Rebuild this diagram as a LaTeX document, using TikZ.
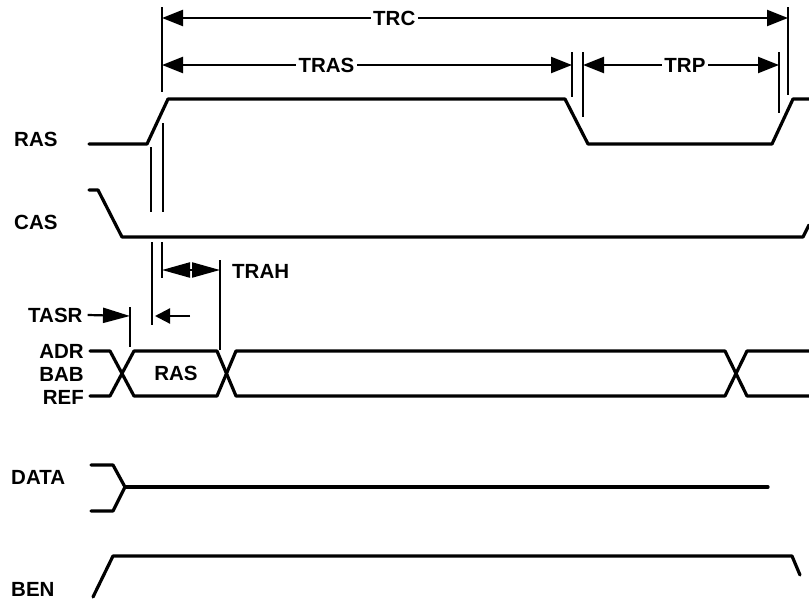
\documentclass[tikz,border=0pt]{standalone}
\usepackage{fontspec}
\setmainfont{Liberation Sans}
\usetikzlibrary{arrows.meta}

\begin{document}
\begin{tikzpicture}[x=1pt, y=-1pt,
    sig/.style={line width=3.2pt, line cap=round, line join=round},
    guide/.style={line width=2.7pt},
    dim/.style={line width=2.2pt, {Triangle[length=21pt,width=16pt]}-{Triangle[length=21pt,width=16pt]}},
    lbl/.style={font=\fontsize{20.5}{24}\selectfont\bfseries, inner sep=0pt, text height=14.5pt, text depth=0pt},
    dimlbl/.style={lbl, fill=white, inner xsep=2.5pt}]
    \useasboundingbox (0,0) rectangle (809,605);

    % signal names
    \node[lbl, anchor=west] (nRAS) at (14,139) {RAS};
    \node[lbl, anchor=west] (nCAS) at (14,222) {CAS};
    \node[lbl, anchor=east] (nADR) at (84,351) {ADR};
    \node[lbl, anchor=east] (nBAB) at (84,374) {BAB};
    \node[lbl, anchor=east] (nREF) at (84,397) {REF};
    \node[lbl, anchor=west] (nDATA) at (11,477) {DATA};
    \node[lbl, anchor=west] (nBEN) at (11,589) {BEN};

    % waveforms
    \draw[sig] (89,144) -- (147,144) -- (168,99) -- (565,99) -- (588,144) -- (772,144) -- (793,99) -- (809,99);
    \draw[sig] (89,190) -- (98,190) -- (122,237) -- (803,237) -- (809,225);
    \draw[sig] (90,351) -- (110,351) -- (134,396) -- (217,396) -- (236,351) -- (725,351) -- (747,396) -- (809,396);
    \draw[sig] (90,396) -- (110,396) -- (134,351) -- (217,351) -- (236,396) -- (725,396) -- (747,351) -- (809,351);
    \node[lbl] (busRAS) at (176,373) {RAS};
    \draw[sig] (91,465) -- (113,465) -- (125,487) -- (113,511) -- (91,511);
    \draw[sig] (125,487) -- (768,487);
    \draw[sig] (93,597) -- (113,556) -- (792,556) -- (800,575);

    % reference lines
    \draw[guide] (162,7) -- (162,92);
    \draw[guide] (788,7) -- (788,95);
    \draw[guide] (572,52) -- (572,97);
    \draw[guide] (583,52) -- (583,117);
    \draw[guide] (779,52) -- (779,113);
    \draw[guide] (151,147) -- (151,212);
    \draw[guide] (163,123) -- (163,212);
    \draw[guide] (152,242) -- (152,325);
    \draw[guide] (162,242) -- (162,278);
    \draw[guide] (220,260) -- (220,350);
    \draw[guide] (130,307) -- (130,347);

    % timing marks
    \coordinate (trcA) at (162,18);
    \coordinate (trcB) at (788,18);
    \coordinate (trasA) at (162,65);
    \coordinate (trasB) at (572,65);
    \coordinate (trpA) at (583,65);
    \coordinate (trpB) at (779,65);
    \coordinate (trahA) at (162,270);
    \coordinate (trahB) at (220,270);
    \coordinate (tasrA) at (130,316);
    \coordinate (tasrB) at (152,316);

    \draw[dim] (trcA) -- node[dimlbl, pos=0.371] (lTRC) {TRC} (trcB);
    \draw[dim] (trasA) -- node[dimlbl, pos=0.401] (lTRAS) {TRAS} (trasB);
    \draw[dim] (trpA) -- node[dimlbl, pos=0.52] (lTRP) {TRP} (trpB);
    \draw[line width=2.2pt, {Triangle[length=28pt,width=15pt]}-{Triangle[length=28pt,width=15pt]}] (trahA) -- (trahB);
    \node[lbl, anchor=west] (lTRAH) at (232,271) {TRAH};
    \node[lbl, anchor=west] (lTASR) at (28,315) {TASR};
    \draw[line width=2.2pt, -{Triangle[length=27pt,width=15pt]}] (lTASR.east) ++(5,0) coordinate (tasrT) -- (tasrA);
    \draw[line width=2.2pt, -{Triangle[length=15pt,width=15pt]}] ([xshift=38pt]tasrB) -- ([xshift=3pt]tasrB);
\end{tikzpicture}
\end{document}
